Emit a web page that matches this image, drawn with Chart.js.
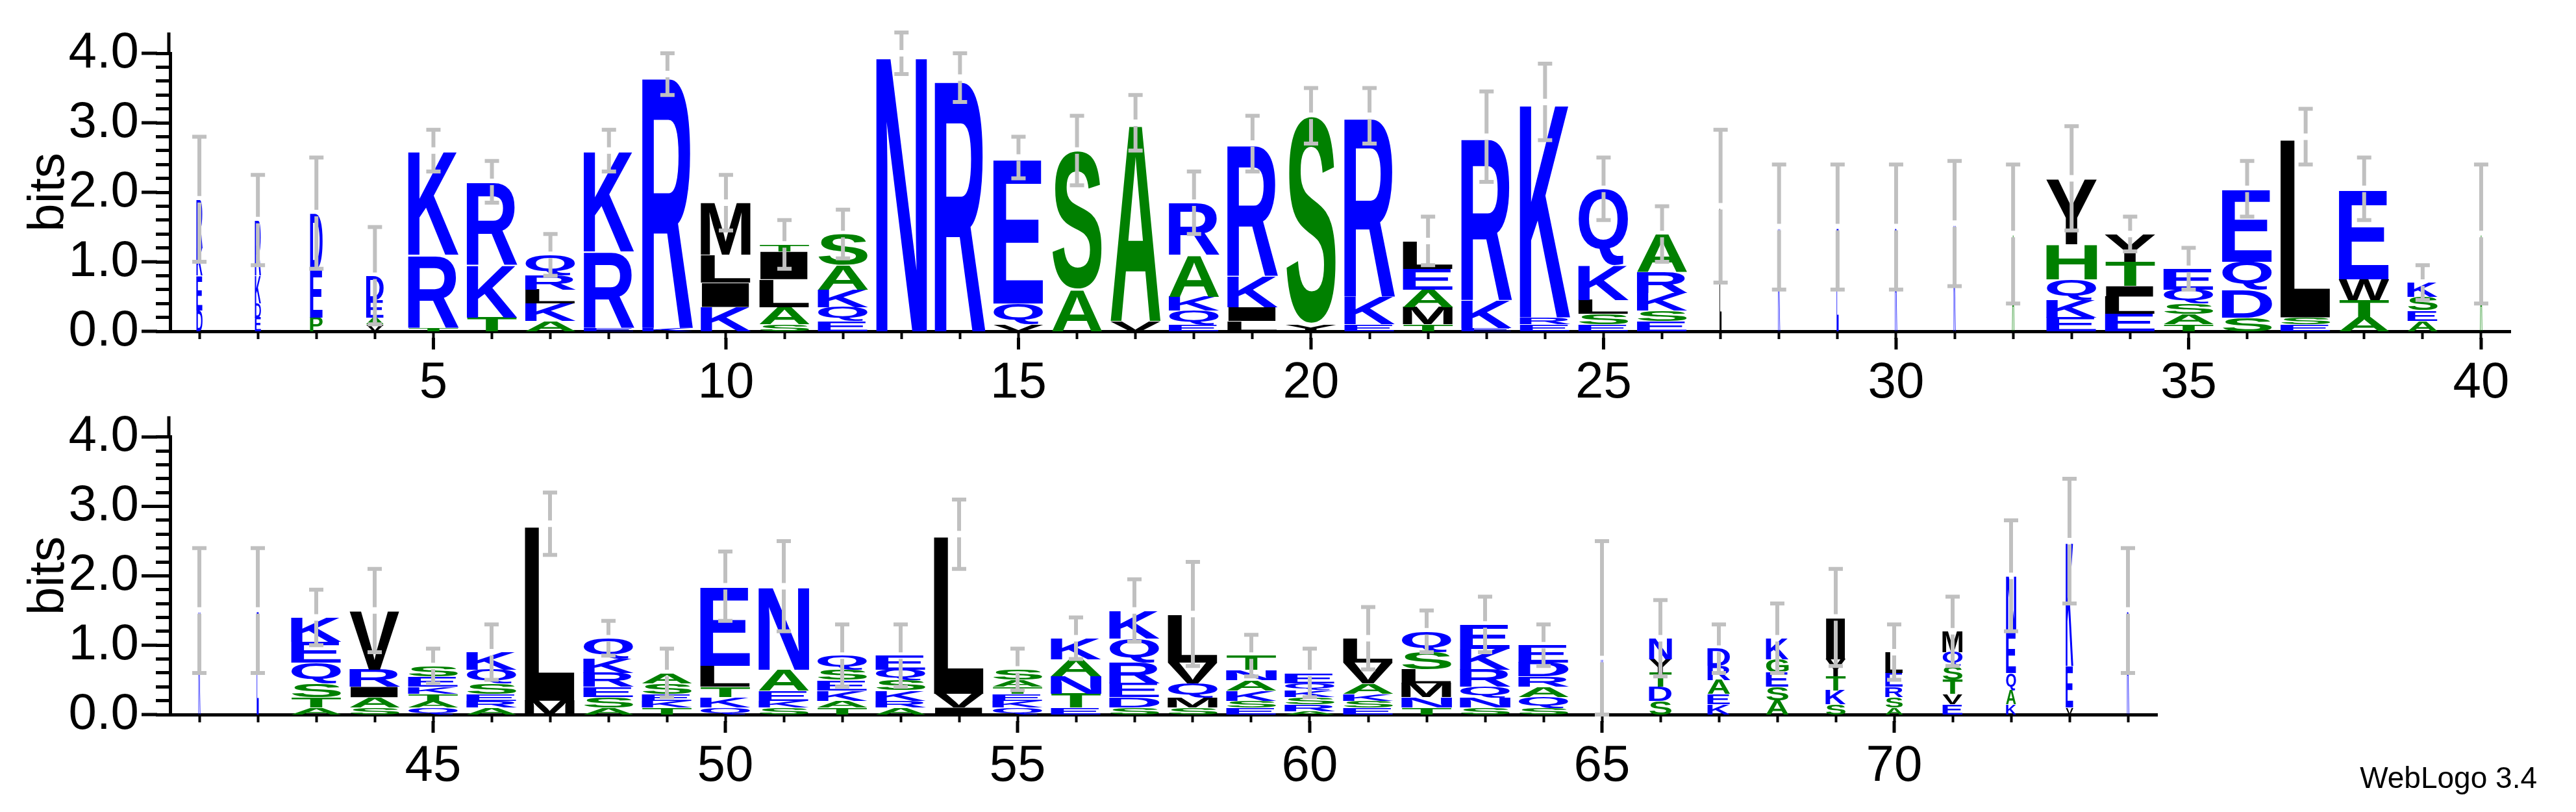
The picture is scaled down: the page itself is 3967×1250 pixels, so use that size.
<!DOCTYPE html>
<html>
<head>
<meta charset="utf-8">
<script src="https://cdn.jsdelivr.net/npm/chart.js@4.4.0/dist/chart.umd.min.js"></script>
<style>
  body { margin: 0; background: #fff; width: 3967px; height: 1250px; position: relative; overflow: hidden; }
  canvas { position: absolute; left: 0; }
  #credit { position: absolute; right: 60px; top: 1170px; font: 46px "Liberation Sans", Arial, sans-serif; }
</style>
</head>
<body>
<canvas id="logo-top" width="3967" height="630" style="top:0"></canvas>
<canvas id="logo-bottom" width="3967" height="620" style="top:600px"></canvas>
<div id="credit">WebLogo 3.4</div>
<script>
// positions 1-40 (top row)
var posTop = [];
for (var p = 1; p <= 40; p++) posTop.push(p);
// letters of each stack, top to bottom
var lettersTop = ["RKED", "RKDE", "DEP", "DEAV", "KRT", "RKT", "QRLKA", "KRE", "RK", "MLIK",
  "TILAS", "SAKQE", "N", "R", "EQV", "SA", "AV", "RAKQE", "RKIL", "SY",
  "RKE", "LEAMT", "RKE", "KRE", "QKLSE", "ARKSE", "L", "K", "E", "R",
  "K", "A", "YHQKE", "YTILE", "EQSAT", "EQDS", "LSE", "EWTA", "KSEA", "A"];
var heightsTop = [[0.7, 0.4, 0.5, 0.3], [0.8, 0.4, 0.2, 0.2], [0.8, 0.7, 0.2], [0.35, 0.25, 0.1, 0.1],
  [1.5, 1.05, 0.05], [1.2, 0.75, 0.2], [0.3, 0.2, 0.2, 0.25, 0.15], [1.45, 1.1, 0.05], [3.65, 0.05],
  [0.75, 0.4, 0.35, 0.35], [0.1, 0.4, 0.4, 0.25, 0.1], [0.45, 0.35, 0.25, 0.2, 0.15], [4.0], [3.65],
  [2.1, 0.3, 0.1], [2.0, 0.6], [2.85, 0.15], [0.75, 0.6, 0.2, 0.2, 0.1], [1.9, 0.45, 0.2, 0.15],
  [3.0, 0.1], [2.6, 0.4, 0.1], [0.4, 0.3, 0.25, 0.25, 0.1], [2.35, 0.4, 0.05], [3.1, 0.1, 0.1],
  [1.1, 0.5, 0.2, 0.15, 0.1], [0.55, 0.3, 0.25, 0.15, 0.15], [1.8], [1.5], [1.5], [1.5], [1.55], [1.4],
  [0.95, 0.5, 0.3, 0.25, 0.2], [0.4, 0.35, 0.15, 0.25, 0.25], [0.3, 0.2, 0.15, 0.15, 0.1],
  [1.05, 0.4, 0.4, 0.2], [2.6, 0.1, 0.1], [1.3, 0.3, 0.25, 0.2], [0.2, 0.2, 0.15, 0.15], [1.4]];
var widthsTop = [0.12, 0.12, 0.25, 0.35, 1, 1, 1, 1, 1, 1, 1, 1, 1, 1, 1, 1, 1, 1, 1, 1,
  1, 1, 1, 1, 1, 1, 0.04, 0.04, 0.04, 0.04, 0.04, 0.04, 1, 1, 1, 1, 1, 1, 0.6, 0.04];
var errTop = [0.9, 0.65, 0.8, 0.7, 0.3, 0.3, 0.3, 0.3, 0.3, 0.4, 0.35, 0.35, 0.3, 0.35, 0.3, 0.5, 0.4, 0.45, 0.4, 0.4,
  0.4, 0.35, 0.65, 0.55, 0.45, 0.4, 1.1, 0.9, 0.9, 0.9, 0.9, 1.0, 0.75, 0.25, 0.3, 0.4, 0.4, 0.45, 0.25, 1.0];

// positions 41-74 (bottom row)
var posBottom = [];
for (var q = 41; q <= 74; q++) posBottom.push(q);
var lettersBottom = ["K", "E", "KEQSTA", "VRIAS", "SEKTAQ", "KQSERA", "LM", "QKRESA", "ASEKT", "ELTKQ",
  "NAEKS", "QSEKAT", "EQSKRA", "LVI", "SATEKQ", "KANTE", "KQREDS", "LVQMS", "TNAKSE", "EQKSRA",
  "LVAKSE", "QSLMNT", "EKRQNS", "EDRAQS", "K", "NYTDS", "DRAEK", "KGESA", "IYTKS", "LERSA",
  "MQSTVE", "NEQAK", "KEV", "R"];
var heightsBottom = [[1.5], [1.5], [0.35, 0.3, 0.3, 0.2, 0.15, 0.1], [0.85, 0.25, 0.15, 0.15, 0.1],
  [0.15, 0.15, 0.1, 0.1, 0.1, 0.1], [0.25, 0.2, 0.15, 0.1, 0.1, 0.1], [2.55, 0.2], [0.3, 0.2, 0.2, 0.15, 0.15, 0.1],
  [0.15, 0.15, 0.1, 0.1, 0.1], [1.15, 0.3, 0.15, 0.15, 0.1], [1.2, 0.3, 0.15, 0.1, 0.1],
  [0.2, 0.15, 0.15, 0.15, 0.1, 0.1], [0.2, 0.15, 0.15, 0.15, 0.1, 0.1], [2.3, 0.2, 0.1],
  [0.15, 0.1, 0.1, 0.1, 0.1, 0.1], [0.3, 0.25, 0.25, 0.2, 0.1], [0.4, 0.35, 0.3, 0.2, 0.15, 0.1],
  [0.7, 0.3, 0.2, 0.15, 0.1], [0.2, 0.15, 0.15, 0.15, 0.1, 0.1], [0.15, 0.1, 0.1, 0.1, 0.1, 0.05],
  [0.35, 0.3, 0.15, 0.1, 0.1, 0.1], [0.3, 0.25, 0.2, 0.2, 0.15, 0.1], [0.35, 0.3, 0.25, 0.15, 0.15, 0.1],
  [0.25, 0.2, 0.15, 0.15, 0.15, 0.1], [0.8], [0.3, 0.2, 0.2, 0.2, 0.2], [0.25, 0.2, 0.2, 0.15, 0.15],
  [0.3, 0.2, 0.2, 0.2, 0.2], [0.6, 0.25, 0.2, 0.2, 0.15], [0.3, 0.2, 0.15, 0.15, 0.1],
  [0.3, 0.2, 0.2, 0.2, 0.15, 0.15], [0.8, 0.6, 0.25, 0.2, 0.15], [1.8, 0.6, 0.1], [1.5]];
var widthsBottom = [0.04, 0.04, 1, 1, 1, 1, 1, 1, 1, 1, 1, 1, 1, 1, 1, 1, 1, 1, 1, 1,
  1, 1, 1, 1, 0.04, 0.45, 0.45, 0.45, 0.4, 0.35, 0.4, 0.2, 0.15, 0.04];
var errBottom = [0.9, 0.9, 0.4, 0.6, 0.25, 0.4, 0.45, 0.25, 0.35, 0.5, 0.65, 0.45, 0.45, 0.5, 0.3, 0.3, 0.45, 0.75,
  0.3, 0.35, 0.45, 0.3, 0.4, 0.3, 1.7, 0.55, 0.35, 0.5, 0.7, 0.4, 0.5, 0.8, 0.9, 0.9];

var yTicks = [0, 1, 2, 3, 4];

var colorOf = {};
"RKDENQ".split("").forEach(function (c) { colorOf[c] = "#0000ff"; });
"SGHTAP".split("").forEach(function (c) { colorOf[c] = "#008000"; });
"YVMCLFIW".split("").forEach(function (c) { colorOf[c] = "#000000"; });

var FONT = '"Liberation Sans", Arial, sans-serif';

function sum(a) { return a.reduce(function (s, v) { return s + v; }, 0); }

// draws each stack of letters and its error bar from the scales
var logoPlugin = {
  id: "logo",
  afterDatasetsDraw: function (chart, args, opts) {
    var ctx = chart.ctx, xs = chart.scales.x, ys = chart.scales.y;
    var unit = xs.getPixelForValue(opts.pos[1]) - xs.getPixelForValue(opts.pos[0]);
    ctx.save();
    opts.pos.forEach(function (p, i) {
      var w = unit * 0.87 * opts.widths[i];
      var xc = xs.getPixelForValue(p);
      var base = 0;
      var letters = opts.letters[i], hs = opts.heights[i];
      for (var k = letters.length - 1; k >= 0; k--) {
        var ch = letters[k];
        var yb = ys.getPixelForValue(base), yt = ys.getPixelForValue(base + hs[k]);
        base += hs[k];
        ctx.font = "bold 400px " + FONT;
        var m = ctx.measureText(ch);
        var bw = m.actualBoundingBoxLeft + m.actualBoundingBoxRight;
        var bh = m.actualBoundingBoxAscent + m.actualBoundingBoxDescent;
        ctx.save();
        ctx.translate(xc - w / 2, yt);
        ctx.scale(w / bw, (yb - yt) / bh);
        ctx.fillStyle = colorOf[ch] || "#000";
        ctx.textBaseline = "alphabetic";
        ctx.fillText(ch, m.actualBoundingBoxLeft, m.actualBoundingBoxAscent);
        ctx.restore();
      }
      // error bar
      var e = opts.err[i];
      var yTop = ys.getPixelForValue(base + e), yLow = ys.getPixelForValue(Math.max(0, base - e));
      var yMid = ys.getPixelForValue(base);
      ctx.strokeStyle = "#c0c0c0";
      ctx.lineWidth = 6;
      ctx.beginPath();
      ctx.moveTo(xc, yTop); ctx.lineTo(xc, yMid - 5);
      ctx.moveTo(xc, yMid + 5); ctx.lineTo(xc, yLow);
      ctx.moveTo(xc - 11, yTop); ctx.lineTo(xc + 11, yTop);
      ctx.moveTo(xc - 11, yLow); ctx.lineTo(xc + 11, yLow);
      ctx.stroke();
    });
    // longer major ticks and axis extension
    ctx.strokeStyle = "#000";
    ctx.lineWidth = 5;
    ctx.beginPath();
    var left = chart.chartArea.left;
    yTicks.forEach(function (t) {
      var y = ys.getPixelForValue(t);
      ctx.moveTo(left - 44, y); ctx.lineTo(left - 20, y);
    });
    ctx.moveTo(left - 2, ys.getPixelForValue(4)); ctx.lineTo(left - 2, ys.getPixelForValue(4.3));
    opts.pos.forEach(function (p) {
      if (p % 5 === 0) {
        var x = xs.getPixelForValue(p);
        ctx.moveTo(x, chart.chartArea.bottom + 10); ctx.lineTo(x, chart.chartArea.bottom + 28);
      }
    });
    ctx.stroke();
    ctx.restore();
  }
};

function makeLogo(id, pos, letters, heights, widths, err, padTop, padRight) {
  var totals = heights.map(sum);
  return new Chart(document.getElementById(id), {
    type: "scatter",
    data: {
      datasets: [{
        data: pos.map(function (p, i) { return { x: p, y: totals[i] }; }),
        pointRadius: 0,
        showLine: false
      }]
    },
    options: {
      responsive: false,
      animation: false,
      devicePixelRatio: 1,
      layout: { padding: { top: padTop, right: padRight, left: 0, bottom: 0 } },
      plugins: {
        legend: { display: false },
        tooltip: { enabled: false },
        logo: { pos: pos, letters: letters, heights: heights, widths: widths, err: err }
      },
      scales: {
        x: {
          type: "linear",
          min: pos[0] - 0.5,
          max: pos[pos.length - 1] + 0.5,
          afterFit: function (s) { s.height = 120; },
          afterBuildTicks: function (s) { s.ticks = pos.map(function (p) { return { value: p }; }); },
          ticks: {
            autoSkip: false,
            maxRotation: 0,
            padding: 22,
            color: "#000",
            font: { family: FONT, size: 78 },
            callback: function (v) { return v % 5 === 0 ? String(v) : ""; }
          },
          grid: { drawOnChartArea: false, tickLength: 12, tickWidth: 4, color: "#000" },
          border: { color: "#000", width: 5 }
        },
        y: {
          min: 0,
          max: 4,
          afterFit: function (s) { s.width = 262; },
          afterBuildTicks: function (s) {
            var t = [];
            for (var k = 0; k <= 20; k++) t.push({ value: k / 5 });
            s.ticks = t;
          },
          ticks: {
            autoSkip: false,
            padding: 26,
            color: "#000",
            font: { family: FONT, size: 78 },
            callback: function (v) { return yTicks.indexOf(v) >= 0 ? v.toFixed(1) : ""; }
          },
          title: { display: true, text: "bits", color: "#000", font: { family: FONT, size: 78 }, padding: { top: 30, bottom: 0 } },
          grid: { drawOnChartArea: false, tickLength: 22, tickWidth: 5, color: "#000" },
          border: { color: "#000", width: 5 }
        }
      }
    },
    plugins: [logoPlugin]
  });
}

makeLogo("logo-top", posTop, lettersTop, heightsTop, widthsTop, errTop, 82, 101);
makeLogo("logo-bottom", posBottom, lettersBottom, heightsBottom, widthsBottom, errBottom, 72, 645);
</script>
</body>
</html>
